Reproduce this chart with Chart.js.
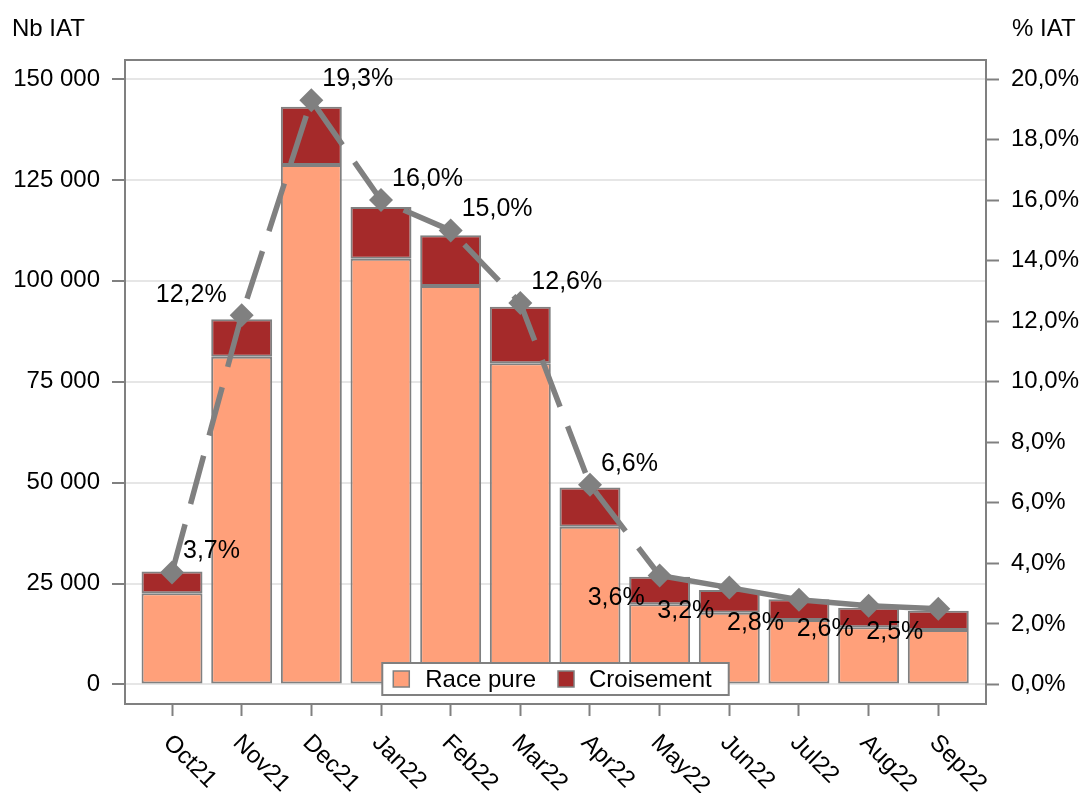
<!DOCTYPE html>
<html><head><meta charset="utf-8">
<script src="https://cdn.jsdelivr.net/npm/chart.js@4.4.1/dist/chart.umd.min.js"></script>
<style>html,body{margin:0;padding:0;background:#fff;} canvas{display:block;}</style>
</head><body>
<canvas id="c" width="1084" height="793"></canvas>
<script>
// ---- data ----
const categories = ['Oct21','Nov21','Dec21','Jan22','Feb22','Mar22','Apr22','May22','Jun22','Jul22','Aug22','Sep22'];
const racePure   = [22600, 81200, 128700, 105500, 98700, 79600, 39100, 19900, 17800, 16000, 14200, 13500];
const croisement = [5400, 9300, 14400, 12800, 12600, 14000, 9700, 6800, 5600, 5100, 4800, 4800];
const pctIAT     = [3.7, 12.2, 19.3, 16.0, 15.0, 12.6, 6.6, 3.6, 3.2, 2.8, 2.6, 2.5];
const leftTicks  = [0, 25000, 50000, 75000, 100000, 125000, 150000];
const rightTicks = [0, 2, 4, 6, 8, 10, 12, 14, 16, 18, 20];
const seriesNames = ['Race pure', 'Croisement', '% IAT'];
const axisTitles  = ['Nb IAT', '% IAT'];

// ---- style ----
const labelPlacement = ['ur','ul','ur','ur','ur','ur','ur','bl','bl','bl','bl','bl'];
const dashedBefore = 7;
const GRAY = '#808080';
const FAMILY = "'Liberation Sans', Arial, sans-serif";
const FONT = "24px " + FAMILY;
const LABEL_FONT = "25px " + FAMILY;

const fmtNum = v => String(v).replace(/\B(?=(\d{3})+(?!\d))/g, ' ');
const fmtPct = v => v.toFixed(1).replace('.', ',') + '%';

Chart.defaults.font.family = FAMILY;
Chart.defaults.font.size = 24;
Chart.defaults.color = '#000';

const customPlugin = {
  id: 'custom',
  afterDatasetsDraw(chart) {
    const ctx = chart.ctx, ca = chart.chartArea;
    ctx.save();
    // data labels
    ctx.font = LABEL_FONT; ctx.fillStyle = '#000'; ctx.textBaseline = 'middle';
    chart.getDatasetMeta(2).data.forEach((pt, i) => {
      const p = labelPlacement[i];
      let x = pt.x, y = pt.y;
      if (p === 'ur') { ctx.textAlign = 'left'; x += 11; y -= 21; }
      else if (p === 'ul') { ctx.textAlign = 'right'; x -= 15; y -= 20; }
      else { ctx.textAlign = 'right'; x -= 15; y += 23; }
      ctx.fillText(fmtPct(pctIAT[i]), x, y);
    });
    // frame
    ctx.strokeStyle = GRAY; ctx.lineWidth = 2;
    ctx.strokeRect(ca.left, ca.top, ca.right - ca.left, ca.bottom - ca.top);
    // legend
    ctx.font = FONT;
    const colors = [chart.data.datasets[0].backgroundColor, chart.data.datasets[1].backgroundColor];
    const w1 = ctx.measureText(seriesNames[0]).width, w2 = ctx.measureText(seriesNames[1]).width;
    const total = 11 + 16 + 16 + w1 + 22 + 16 + 15 + w2 + 17;
    const bx = (ca.left + ca.right) / 2 - total / 2;
    const bh = 32, by = ca.bottom - 9 - bh;
    ctx.fillStyle = '#fff';
    ctx.fillRect(bx, by, total, bh);
    ctx.strokeStyle = GRAY; ctx.lineWidth = 2;
    ctx.strokeRect(bx, by, total, bh);
    let x = bx + 11;
    const sy = by + bh / 2 - 8;
    ctx.lineWidth = 1.5;
    ctx.fillStyle = colors[0]; ctx.fillRect(x, sy, 16, 16); ctx.strokeRect(x, sy, 16, 16);
    x += 16 + 16;
    ctx.fillStyle = '#000'; ctx.textAlign = 'left'; ctx.textBaseline = 'alphabetic';
    ctx.fillText(seriesNames[0], x, by + 24);
    x += w1 + 22;
    ctx.fillStyle = colors[1]; ctx.fillRect(x, sy, 16, 16); ctx.strokeRect(x, sy, 16, 16);
    x += 16 + 15;
    ctx.fillStyle = '#000';
    ctx.fillText(seriesNames[1], x, by + 24);
    ctx.restore();
  },
  afterDraw(chart) {
    const ctx = chart.ctx, ca = chart.chartArea, xs = chart.scales.x;
    ctx.save();
    ctx.font = FONT; ctx.fillStyle = '#000';
    ctx.textBaseline = 'middle'; ctx.textAlign = 'left';
    ctx.fillText(axisTitles[0], 12, 29);
    ctx.fillText(axisTitles[1], 1012, 29);
    categories.forEach((c, i) => {
      const px = xs.getPixelForValue(i);
      ctx.save();
      ctx.translate(px - 5, ca.bottom + 35);
      ctx.rotate(Math.PI / 4);
      ctx.fillText(c, 0, 0);
      ctx.restore();
    });
    ctx.restore();
  }
};

new Chart(document.getElementById('c'), {
  type: 'bar',
  data: {
    datasets: [
      { type: 'bar', label: seriesNames[0], data: racePure.map((v, i) => ({x: i, y: v})),
        backgroundColor: '#FFA07A', borderColor: GRAY, borderWidth: 2, borderSkipped: false,
        barPercentage: 0.875, categoryPercentage: 1, order: 1, yAxisID: 'y' },
      { type: 'bar', label: seriesNames[1], data: croisement.map((v, i) => ({x: i, y: v})),
        backgroundColor: '#A52A2A', borderColor: GRAY, borderWidth: 2, borderSkipped: false,
        barPercentage: 0.875, categoryPercentage: 1, order: 2, yAxisID: 'y' },
      { type: 'line', label: seriesNames[2], data: pctIAT.map((v, i) => ({x: i, y: v})),
        yAxisID: 'y1', borderColor: GRAY, borderWidth: 5.5, borderCapStyle: 'butt', tension: 0,
        pointStyle: 'rectRot', pointRadius: 12, pointBackgroundColor: GRAY, pointBorderWidth: 0,
        borderDash: [],
        segment: { borderDash: c => c.p0DataIndex < dashedBefore ? [50, 21] : [] },
        order: 0 }
    ]
  },
  options: {
    responsive: false,
    animation: false,
    devicePixelRatio: 1,
    layout: { padding: { top: 60, left: 13, right: 5, bottom: 77 } },
    plugins: { legend: { display: false }, tooltip: { enabled: false } },
    scales: {
      x: {
        type: 'linear', min: -0.675, max: 11.685, offset: false, stacked: true,
        afterBuildTicks: s => { s.ticks = categories.map((_, i) => ({value: i})); },
        ticks: { display: false },
        grid: { display: true, drawOnChartArea: false, drawTicks: true, tickLength: 12,
                tickColor: GRAY, tickWidth: 2, offset: false },
        border: { display: false }
      },
      y: {
        position: 'left', stacked: true, min: -4831, max: 154707,
        afterBuildTicks: s => { s.ticks = leftTicks.map(v => ({value: v})); },
        afterFit: s => { s.width = 112; },
        ticks: { callback: v => fmtNum(v), padding: 12, color: '#000', font: { size: 24 } },
        grid: { color: '#e6e6e6', lineWidth: 2, tickColor: GRAY, tickWidth: 2, tickLength: 13 },
        border: { display: false }
      },
      y1: {
        position: 'right', min: -0.644, max: 20.628,
        afterBuildTicks: s => { s.ticks = rightTicks.map(v => ({value: v})); },
        afterFit: s => { s.width = 93; },
        ticks: { callback: v => fmtPct(v), padding: 12, color: '#000', font: { size: 24 } },
        grid: { drawOnChartArea: false, tickColor: GRAY, tickWidth: 2, tickLength: 13 },
        border: { display: false }
      }
    }
  },
  plugins: [customPlugin]
});
</script>
</body></html>
